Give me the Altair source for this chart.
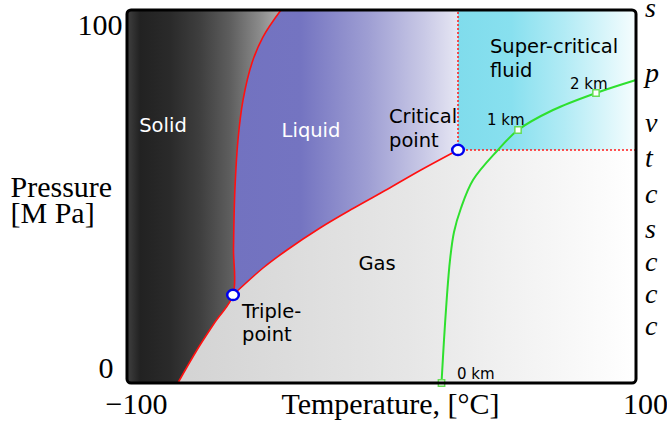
import altair as alt
import pandas as pd

# ---- data (temperature in °C, pressure in MPa) ----
# solid boundary: sublimation curve (bottom -> triple point) then melting curve (-> top)
solid_T = [-80.0, -72.5, -65.4, -58.35, -58.15, -57.96, -57.56, -56.4, -54.4, -50.9, -46.6, -39.5]
solid_P = [0.0, 8.85, 16.35, 23.6, 35.66, 43.7, 52.55, 65.15, 75.9, 85.8, 92.76, 100.0]

# vaporization curve: triple point -> critical point
vap_T = [-58.35, -46.56, -37.13, -24.17, -11.2, 2.16, 15.13, 30.06]
vap_P = [23.6, 30.83, 35.66, 41.56, 46.78, 51.88, 56.97, 62.47]

point_T = [-58.35, 30.06]   # triple point, critical point
point_P = [23.6, 62.47]

# geotherm (green)
geo_T = [23.58, 24.56, 25.74, 26.92, 28.49, 31.24, 35.96, 45.38, 53.64, 67.39, 84.28, 100.0]
geo_P = [0.0, 11.53, 23.59, 32.97, 40.48, 46.92, 54.42, 62.2, 67.83, 73.19, 77.75, 81.24]

depth_text = ["0 km", "1 km", "2 km"]
depth_T = [23.58, 53.64, 84.28]
depth_P = [0.0, 67.83, 77.75]
depth_label_T = [29.67, 41.45, 74.07]
depth_label_P = [1.07, 69.17, 78.82]

white_text = ["Solid", "Liquid"]
white_T = [-85.85, -27.7]
white_P = [67.29, 65.95]

gas_text = ["Gas"]
gas_T = [-1.77]
gas_P = [30.3]

note_text = ["Critical\npoint", "Super-critical\nfluid", "Triple-\npoint"]
note_T = [2.95, 42.63, -54.81]
note_P = [69.7, 88.47, 17.43]

# fragments of page text cut off at the right edge of the picture
edge_text = ["s", "p", "v", "t", "c", "s", "c", "c", "c"]
edge_T = [103.5] * 9
edge_P = [98.12, 80.7, 67.29, 57.9, 48.25, 38.87, 30.03, 21.45, 12.87]

x_ticks = [-100, 100]
y_ticks = [0, 100]

# ---- chart ----
W, H = 509, 373
SERIF = "Liberation Serif"
SANS = "DejaVu Sans"

xs = alt.Scale(domain=[-100, 100], nice=False, zero=False)
ys = alt.Scale(domain=[0, 100], nice=False, zero=False)

X_AX = alt.Axis(
    values=x_ticks, title="Temperature, [°C]", grid=False, domain=False, ticks=False, tickSize=0,
    labelFlush=False, labelOverlap=False, labelAlign="center", labelBaseline="alphabetic",
    labelPadding=30, labelOffset=9, labelFont=SERIF, labelFontSize=30, labelColor="black",
    labelExpr="datum.value < 0 ? '\u2212' + abs(datum.value) : '' + datum.value",
    titleFont=SERIF, titleFontSize=30, titleFontWeight="normal", titleColor="black",
    titleX=263, titleY=30, titleBaseline="alphabetic", titleAlign="center",
)
Y_AX = alt.Axis(
    values=y_ticks, title=["Pressure", "[M Pa]"], grid=False, domain=False, ticks=False, tickSize=0,
    labelFlush=True, labelOverlap=False,
    labelPadding={"condition": {"test": "datum.value == 0", "value": 14}, "value": 5},
    labelFont=SERIF, labelFontSize=30, labelColor="black",
    titleAngle=0, titleAlign="left", titleBaseline="alphabetic", titleX=-117, titleY=186,
    titleFont=SERIF, titleFontSize=30, titleFontWeight="normal", titleLineHeight=26, titleColor="black",
)


def X(f):
    return alt.X(f, type="quantitative", scale=xs, axis=X_AX)


def Y(f):
    return alt.Y(f, type="quantitative", scale=ys, axis=Y_AX)


def grad(stops):
    return alt.LinearGradient(
        gradient="linear",
        stops=[alt.GradientStop(color=c, offset=o) for o, c in stops],
        x1=0, x2=1, y1=0, y2=0,
    )


crit_T, crit_P = point_T[1], point_P[1]
CURVE = "catmull-rom"

gas = alt.Chart(pd.DataFrame({"T0": [solid_T[0]], "T1": [100], "P0": [0], "P1": [crit_P]})).mark_rect(
    color=grad([(0, "#d3d3d3"), (0.5, "#e6e6e6"), (1, "#ffffff")])
).encode(x=X("T0"), x2="T1", y=Y("P0"), y2="P1")

liquid = alt.Chart(pd.DataFrame({"T": vap_T, "P": vap_P, "Ptop": 100})).mark_area(
    color=grad([(0, "#7272c0"), (0.3, "#7474c1"), (0.6, "#9e9ed3"), (0.85, "#c9c9e6"), (1, "#e6e6f3")]),
    interpolate=CURVE, orient="vertical",
).encode(x=X("T"), y=Y("P"), y2="Ptop")

supercrit = alt.Chart(pd.DataFrame({"T0": [crit_T], "T1": [100], "P0": [crit_P], "P1": [100]})).mark_rect(
    color=grad([(0, "#80dcec"), (0.3, "#88e0ef"), (0.6, "#b2ebf5"), (1, "#f6fdfe")])
).encode(x=X("T0"), x2="T1", y=Y("P0"), y2="P1")

solid_df = pd.DataFrame({"T": solid_T, "P": solid_P, "Tleft": -100})
solid = alt.Chart(solid_df).mark_area(
    color=grad([(0, "#404040"), (0.085, "#222222"), (0.28, "#2a2a2a"), (0.47, "#3e3e3e"),
                (0.67, "#5e5e5e"), (0.86, "#8a8a8a"), (1, "#b0b0b0")]),
    interpolate=CURVE, orient="horizontal",
).encode(y=Y("P"), x=X("Tleft"), x2="T")

crit_df = pd.DataFrame({"T": [crit_T], "P": [crit_P], "Tmax": [100], "Pmax": [100]})
dot_v = alt.Chart(crit_df).mark_rule(color="#ff1a1a", strokeWidth=1.5, strokeDash=[2, 2]).encode(
    x=X("T"), y=Y("P"), y2="Pmax")
dot_h = alt.Chart(crit_df).mark_rule(color="#ff1a1a", strokeWidth=1.5, strokeDash=[2, 2]).encode(
    y=Y("P"), x=X("T"), x2="Tmax")

solid_line = alt.Chart(solid_df).mark_line(color="#ff1010", strokeWidth=1.6, interpolate=CURVE).encode(
    x=X("T"), y=Y("P"), order=alt.Order("P:Q"))
vap_line = alt.Chart(pd.DataFrame({"T": vap_T, "P": vap_P})).mark_line(
    color="#ff1010", strokeWidth=1.6, interpolate=CURVE).encode(x=X("T"), y=Y("P"))

geo_line = alt.Chart(pd.DataFrame({"T": geo_T, "P": geo_P})).mark_line(
    color="#2ee02e", strokeWidth=2, interpolate=CURVE).encode(x=X("T"), y=Y("P"), order=alt.Order("P:Q"))

depth_df = pd.DataFrame({"T": depth_T, "P": depth_P, "LT": depth_label_T, "LP": depth_label_P, "text": depth_text})
depth_pts = alt.Chart(depth_df).mark_point(
    shape="square", filled=True, fill="white", stroke="#66dd55", strokeWidth=1.5, size=40, opacity=1
).encode(x=X("T"), y=Y("P"))
depth_lbl = alt.Chart(depth_df).mark_text(
    font=SANS, fontSize=15, color="black", align="left", baseline="alphabetic"
).encode(x=X("LT"), y=Y("LP"), text="text")

ellipse = "M-1,0A1,0.88,0,1,1,1,0A1,0.88,0,1,1,-1,0Z"
pts = alt.Chart(pd.DataFrame({"T": point_T, "P": point_P})).mark_point(
    shape=ellipse, filled=True, fill="white", stroke="#0000ee", strokeWidth=2.5, size=135, opacity=1
).encode(x=X("T"), y=Y("P"))

white_lbl = alt.Chart(pd.DataFrame({"T": white_T, "P": white_P, "text": white_text})).mark_text(
    font=SANS, fontSize=19.5, color="white", align="center", baseline="alphabetic"
).encode(x=X("T"), y=Y("P"), text="text")

gas_lbl = alt.Chart(pd.DataFrame({"T": gas_T, "P": gas_P, "text": gas_text})).mark_text(
    font=SANS, fontSize=19.5, color="black", align="center", baseline="alphabetic"
).encode(x=X("T"), y=Y("P"), text="text")

note_lbl = alt.Chart(pd.DataFrame({"T": note_T, "P": note_P, "text": note_text})).mark_text(
    font=SANS, fontSize=19.5, color="black", align="left", baseline="alphabetic",
    lineBreak="\n", lineHeight=23.5
).encode(x=X("T"), y=Y("P"), text="text")

edge_lbl = alt.Chart(pd.DataFrame({"T": edge_T, "P": edge_P, "text": edge_text})).mark_text(
    font=SERIF, fontSize=28, fontStyle="italic", color="black", align="left", baseline="alphabetic"
).encode(x=X("T"), y=Y("P"), text="text")

frame = alt.Chart(pd.DataFrame({"T0": [-100], "T1": [100], "P0": [0], "P1": [100]})).mark_rect(
    filled=False, fillOpacity=0, stroke="black", strokeWidth=3, cornerRadius=4
).encode(x=X("T0"), x2="T1", y=Y("P0"), y2="P1")

chart = alt.layer(
    gas, liquid, supercrit, solid, dot_v, dot_h, solid_line, vap_line, geo_line,
    depth_pts, pts, white_lbl, gas_lbl, note_lbl, depth_lbl, edge_lbl, frame
).properties(
    width=W, height=H,
    autosize=alt.AutoSizeParams(type="none"),
    padding={"left": 127, "top": 10, "right": 31, "bottom": 40},
    background="white",
).configure_view(stroke=None)

chart.save("out.html", embed_options={"renderer": "svg", "actions": False})
